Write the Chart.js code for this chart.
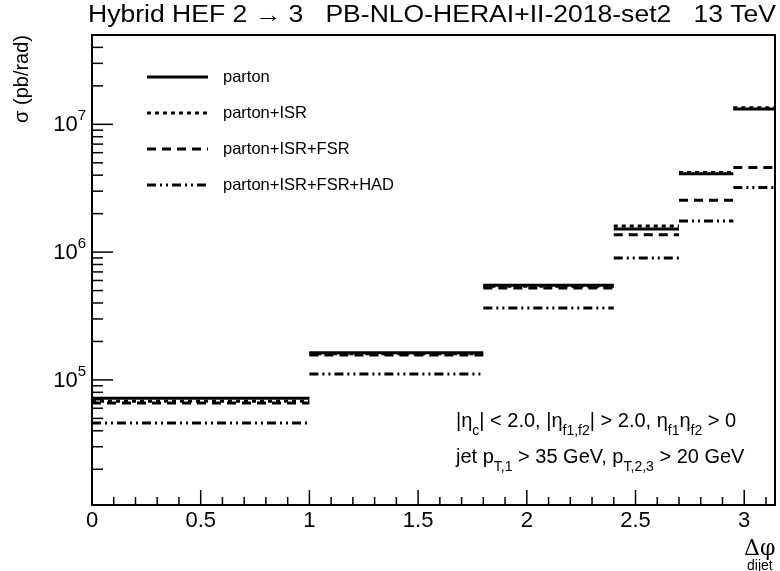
<!DOCTYPE html>
<html>
<head>
<meta charset="utf-8">
<script src="https://cdn.jsdelivr.net/npm/chart.js@4"></script>
<style>
  body { margin: 0; background: #fff; }
  #wrap { width: 780px; height: 571px; }
</style>
</head>
<body>
<div id="wrap"><canvas id="myChart" width="780" height="571"></canvas></div>
<script>
// bin edges in delta phi (last edge is pi)
const edges = [0, 1, 1.8, 2.4, 2.7, 2.95, Math.PI];

// cross sections per bin (pb/rad)
const parton    = [7.2e4, 1.63e5, 5.5e5, 1.52e6, 4.1e6, 1.32e7];
const partonISR = [6.8e4, 1.60e5, 5.4e5, 1.60e6, 4.2e6, 1.35e7];
const partonFSR = [6.6e4, 1.57e5, 5.25e5, 1.37e6, 2.55e6, 4.6e6];
const partonHAD = [4.6e4, 1.11e5, 3.65e5, 9.0e5, 1.75e6, 3.2e6];

const labels = ['parton', 'parton+ISR', 'parton+ISR+FSR', 'parton+ISR+FSR+HAD'];
const xTicks = [0, 0.5, 1, 1.5, 2, 2.5, 3];
const yDecades = [5, 6, 7];

const dashes = [[], [4, 4], [9, 6], [9, 4, 2, 4, 2, 4]];
const widths = [3, 3, 3, 3];

function steps(vals) {
  const pts = [];
  vals.forEach(function (v, i) {
    pts.push({x: edges[i], y: v}, {x: edges[i + 1], y: v}, {x: edges[i + 1], y: null});
  });
  return pts;
}

const series = [parton, partonISR, partonFSR, partonHAD];

// text with subscripts: list of [text, sub?]
function richText(ctx, parts, x, y, size) {
  let cx = x;
  parts.forEach(function (p) {
    if (p[1]) {
      ctx.font = Math.round(size * 0.72) + 'px "Liberation Sans", Arial, sans-serif';
      ctx.fillText(p[0], cx, y + size * 0.5);
    } else {
      ctx.font = size + 'px "Liberation Sans", Arial, sans-serif';
      ctx.fillText(p[0], cx, y);
    }
    cx += ctx.measureText(p[0]).width;
  });
}

const rootStyle = {
  id: 'rootStyle',
  afterDraw: function (chart) {
    const ctx = chart.ctx;
    const a = chart.chartArea;
    const xs = chart.scales.x, ys = chart.scales.y;
    ctx.save();
    ctx.fillStyle = '#000';
    ctx.strokeStyle = '#000';
    ctx.setLineDash([]);

    // frame
    ctx.lineWidth = 2;
    ctx.strokeRect(a.left, a.top, a.right - a.left, a.bottom - a.top);

    // x ticks
    ctx.lineWidth = 1.5;
    for (let i = 0; i <= 31; i++) {
      const v = i / 10;
      const px = xs.getPixelForValue(v);
      const len = (i % 5 === 0) ? 15 : 8;
      ctx.beginPath();
      ctx.moveTo(px, a.bottom);
      ctx.lineTo(px, a.bottom - len);
      ctx.stroke();
    }
    ctx.font = '22px "Liberation Sans", Arial, sans-serif';
    ctx.textAlign = 'center';
    ctx.textBaseline = 'middle';
    xTicks.forEach(function (v) {
      ctx.fillText(String(v), xs.getPixelForValue(v), 521);
    });

    // y ticks
    for (let k = 4; k <= 7; k++) {
      for (let m = 1; m <= 9; m++) {
        const v = m * Math.pow(10, k);
        if (v < ys.min || v > ys.max) continue;
        const py = ys.getPixelForValue(v);
        const len = m === 1 ? 21 : 11;
        ctx.beginPath();
        ctx.moveTo(a.left, py);
        ctx.lineTo(a.left + len, py);
        ctx.stroke();
      }
    }
    yDecades.forEach(function (k) {
      const py = ys.getPixelForValue(Math.pow(10, k));
      ctx.textAlign = 'left';
      ctx.font = '15px "Liberation Sans", Arial, sans-serif';
      const ew = ctx.measureText(String(k)).width;
      ctx.fillText(String(k), 86 - ew, py - 8);
      ctx.textAlign = 'right';
      ctx.font = '22px "Liberation Sans", Arial, sans-serif';
      ctx.fillText('10', 86 - ew, py + 1);
    });

    // title
    ctx.textAlign = 'left';
    ctx.textBaseline = 'middle';
    ctx.font = '23px "Liberation Sans", Arial, sans-serif';
    const title = 'Hybrid HEF 2 \u2192 3   PB-NLO-HERAI+II-2018-set2   13 TeV';
    const tw = ctx.measureText(title).width;
    ctx.save();
    ctx.translate(88, 16);
    ctx.scale(688 / tw, 1);
    ctx.fillText(title, 0, 0);
    ctx.restore();

    // y axis title
    ctx.save();
    ctx.translate(22, 35);
    ctx.rotate(-Math.PI / 2);
    ctx.textAlign = 'right';
    ctx.font = '20px "Liberation Sans", Arial, sans-serif';
    ctx.fillText('\u03c3 (pb/rad)', 0, 0);
    ctx.restore();

    // x axis title
    ctx.textAlign = 'left';
    ctx.font = '22px "DejaVu Serif", serif';
    ctx.fillText('\u0394\u03c6', 744, 549);
    ctx.font = '14px "Liberation Sans", Arial, sans-serif';
    ctx.fillText('dijet', 747, 566);

    // legend
    const ly = [77, 113, 149, 185];
    labels.forEach(function (t, i) {
      ctx.lineWidth = widths[i];
      ctx.setLineDash(dashes[i]);
      ctx.beginPath();
      ctx.moveTo(147, ly[i]);
      ctx.lineTo(208, ly[i]);
      ctx.stroke();
      ctx.setLineDash([]);
      ctx.font = '16.5px "Liberation Sans", Arial, sans-serif';
      ctx.fillText(t, 223, ly[i]);
    });

    // cuts
    richText(ctx, [['|\u03b7', 0], ['c', 1], ['| < 2.0, |\u03b7', 0], ['f1,f2', 1], ['| > 2.0, \u03b7', 0],
      ['f1', 1], ['\u03b7', 0], ['f2', 1], [' > 0', 0]], 456, 421, 20);
    richText(ctx, [['jet p', 0], ['T,1', 1], [' > 35 GeV, p', 0], ['T,2,3', 1], [' > 20 GeV', 0]], 456, 457, 20);

    ctx.restore();
  }
};

const datasets = series.map(function (s, i) {
  return {
    label: labels[i],
    data: steps(s),
    borderColor: '#000',
    borderWidth: widths[i],
    borderDash: dashes[i],
    pointRadius: 0,
    fill: false,
    spanGaps: false,
    order: 3 - i
  };
});

new Chart(document.getElementById('myChart'), {
  type: 'line',
  data: { datasets: datasets },
  plugins: [rootStyle],
  options: {
    responsive: false,
    animation: false,
    layout: { padding: { left: 92, right: 5, top: 35, bottom: 66 } },
    scales: {
      x: { type: 'linear', min: 0, max: Math.PI, display: false },
      y: { type: 'logarithmic', min: 1.05e4, max: 5e7, display: false }
    },
    plugins: {
      legend: { display: false },
      tooltip: { enabled: false }
    }
  }
});
</script>
</body>
</html>
